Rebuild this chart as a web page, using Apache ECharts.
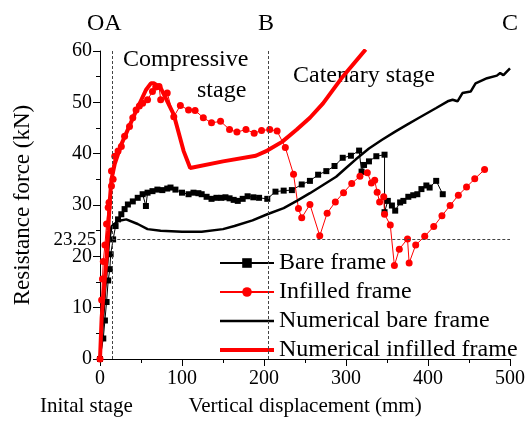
<!DOCTYPE html>
<html>
<head>
<meta charset="utf-8">
<script src="https://cdn.jsdelivr.net/npm/echarts@6/dist/echarts.min.js"></script>
<style>
  html, body { margin: 0; padding: 0; background: #fff; }
  #chart { width: 528px; height: 422px; }
</style>
</head>
<body>
<div id="chart"></div>
<script>
// displacement (mm), resistance (kN) pairs
const bareFrame = [
  [0, 0], [4, 4], [6, 7.5], [8, 11.1], [10, 15.3], [12, 17.5], [13, 20.4], [16, 23.3],
  [19, 25.9], [22, 27.2], [26, 28.2], [30, 29.2], [34, 30.1], [40, 30.7], [46, 31.4],
  [52, 32.1], [56, 29.8], [58, 32.4], [64, 32.7], [70, 33], [76, 32.9], [82, 33.2],
  [86, 33.4], [92, 33], [100, 32.4], [108, 32.1], [114, 32.4], [120, 32.3], [124, 32.1],
  [130, 31.6], [136, 31.2], [142, 31.4], [148, 31.4], [153, 31.5], [158, 31.3], [163, 31],
  [168, 30.8], [174, 31.2], [180, 31.7], [187, 31.5], [194, 31.4], [204, 31.2], [214, 32.6],
  [224, 32.8], [234, 32.9], [246, 34], [256, 34.7], [266, 35.9], [276, 36.6], [286, 37.6],
  [296, 39.2], [306, 39.6], [316, 40.6], [319, 36.5], [322, 37.8], [328, 38.5], [337, 39.5],
  [347, 39.8], [347, 28.6], [351, 30.8], [356, 29.9], [360, 28.9], [366, 30.5], [370, 30.8],
  [376, 31.6], [382, 31.9], [387, 32.1], [392, 33.1], [398, 33.8], [402, 33.4], [410, 34.7],
  [418, 32.1]
];

const infilledFrame = [
  [0, 0], [2, 11.5], [3, 15.6], [4, 19], [6, 22.2], [8, 26.3], [10, 29.5], [11, 30.5],
  [14, 33.7], [16, 35], [14, 36.6], [18, 39.5], [22, 40.5], [26, 41.4], [30, 43.4],
  [36, 45.3], [40, 47], [44, 48.5], [48, 49.3], [52, 49.8], [58, 50.5], [64, 52.1],
  [68, 53], [72, 53.1], [74, 50.5], [82, 51.8], [90, 47.2], [98, 49.4], [108, 48.5],
  [116, 48.4], [126, 47], [136, 46], [147, 46.3], [158, 44.7], [167, 44.2], [178, 44.7],
  [188, 44], [197, 44.5], [207, 44.7], [216, 44.4], [226, 41.2], [236, 36], [242, 29.3],
  [246, 27.5], [256, 30.1], [268, 24], [277, 28.4], [287, 30.6], [297, 32.4], [307, 34.2],
  [317, 35.6], [326, 36.3], [331, 34.3], [335, 34.8], [338, 32.5], [341, 30.6], [346, 31.6],
  [347, 28.2], [354, 26.1], [359, 18.2], [365, 21.4], [375, 23.4], [377, 18.7], [385, 22.2],
  [396, 23.9], [407, 25.8], [417, 27.9], [427, 29.9], [437, 31.9], [447, 33.5], [457, 35.1],
  [469, 36.9]
];

const numericalBare = [
  [0, 0], [3, 6], [6, 13], [9, 19], [11, 23], [14, 25.8], [22, 26.9], [32, 27.2],
  [46, 26.3], [58, 25.3], [74, 25], [100, 24.8], [124, 24.8], [150, 25.3], [164, 25.9],
  [186, 27], [204, 28.2], [224, 29.4], [240, 30.8], [256, 32.3], [272, 33.9], [288, 35.5],
  [300, 37.2], [312, 38.9], [328, 41], [344, 42.7], [360, 44.3], [374, 45.6], [388, 46.9],
  [410, 48.9], [424, 50.2], [430, 50.5], [436, 50.2], [442, 51.8], [452, 52.1], [458, 53.7],
  [472, 54.7], [484, 55.2], [488, 55.7], [492, 55.3], [500, 56.6]
];

const numericalInfilled = [
  [0, 0], [2, 8], [5, 14], [8, 19.5], [10, 25], [12, 31], [14, 35], [18, 38],
  [26, 41.8], [42, 47.6], [56, 52.4], [62, 53.7], [66, 53.7], [74, 52.8], [90, 47.6],
  [102, 40.5], [110, 37.2], [150, 38.5], [190, 39.6], [204, 40.6], [222, 42.3],
  [240, 44.7], [256, 47], [272, 49.8], [296, 55], [324, 60.3]
];

const stageBounds = [15, 205];
const yieldLoad = 23.25;
const xTicks = [0, 500, 100];
const yTicks = [0, 60, 10];

const font = "'Liberation Serif', 'Times New Roman', serif";
const chart = echarts.init(document.getElementById('chart'));

const axisCommon = {
  axisLine: { lineStyle: { color: '#000', width: 1 } },
  axisTick: { length: 7, lineStyle: { color: '#000' } },
  minorTick: { show: true, splitNumber: 2, length: 4, lineStyle: { color: '#000' } },
  splitLine: { show: false },
  axisLabel: { color: '#000', fontSize: 20, fontFamily: font },
  nameTextStyle: { color: '#000', fontFamily: font },
};

const guideStyle = { color: '#444', width: 1, type: [3, 2] };

chart.setOption({
  backgroundColor: '#fff',
  animation: false,
  grid: { left: 100, right: 11, top: 51, bottom: 62 },
  xAxis: {
    type: 'value',
    min: xTicks[0],
    max: xTicks[1],
    interval: xTicks[2],
    name: 'Vertical displacement (mm)',
    nameLocation: 'middle',
    nameGap: 37,
    ...axisCommon,
    axisLabel: { ...axisCommon.axisLabel, margin: 10 },
    nameTextStyle: { ...axisCommon.nameTextStyle, fontSize: 21 },
  },
  yAxis: {
    type: 'value',
    min: yTicks[0],
    max: yTicks[1],
    interval: yTicks[2],
    name: 'Resistance force (kN)',
    nameLocation: 'middle',
    nameGap: 66,
    ...axisCommon,
    axisLabel: { ...axisCommon.axisLabel, margin: 8 },
    nameTextStyle: { ...axisCommon.nameTextStyle, fontSize: 23 },
  },
  legend: {
    orient: 'vertical',
    left: 213,
    top: 246,
    itemWidth: 54,
    itemHeight: 12,
    itemGap: 5,
    textStyle: { fontSize: 24, fontFamily: font, color: '#000' },
    data: [
      { name: 'Bare frame' },
      { name: 'Infilled frame' },
      { name: 'Numerical bare frame', itemStyle: { opacity: 0 }, lineStyle: { width: 2.5 } },
      { name: 'Numerical infilled frame', itemStyle: { opacity: 0 }, lineStyle: { width: 4 } },
    ],
  },
  graphic: [
    { type: 'text', left: 87, top: 12, style: { text: 'OA', font: '24px ' + font, fill: '#000' } },
    { type: 'text', left: 258, top: 12, style: { text: 'B', font: '24px ' + font, fill: '#000' } },
    { type: 'text', left: 502, top: 12, style: { text: 'C', font: '24px ' + font, fill: '#000' } },
    { type: 'text', left: 123, top: 48, style: { text: 'Compressive', font: '24px ' + font, fill: '#000' } },
    { type: 'text', left: 197, top: 79, style: { text: 'stage', font: '24px ' + font, fill: '#000' } },
    { type: 'text', left: 293, top: 64, style: { text: 'Catenary stage', font: '24px ' + font, fill: '#000' } },
    { type: 'text', left: 40, top: 396, style: { text: 'Inital stage', font: '21px ' + font, fill: '#000' } },
  ],
  series: [
    {
      name: 'Bare frame',
      type: 'line',
      data: bareFrame,
      symbol: 'rect',
      symbolSize: 6,
      lineStyle: { color: '#000', width: 1 },
      itemStyle: { color: '#000' },
      z: 3,
    },
    {
      name: 'Infilled frame',
      type: 'line',
      data: infilledFrame,
      symbol: 'circle',
      symbolSize: 7,
      lineStyle: { color: '#ff0000', width: 1 },
      itemStyle: { color: '#ff0000' },
      z: 3,
    },
    {
      name: 'Numerical bare frame',
      type: 'line',
      data: numericalBare,
      symbol: 'none',
      lineStyle: { color: '#000', width: 2.5 },
      itemStyle: { color: '#000' },
      z: 4,
      markLine: {
        silent: true,
        symbol: 'none',
        lineStyle: guideStyle,
        label: { show: false },
        data: [
          [{ coord: [stageBounds[0], yTicks[0]] }, { coord: [stageBounds[0], yTicks[1]] }],
          [{ coord: [stageBounds[1], yTicks[0]] }, { coord: [stageBounds[1], yTicks[1]] }],
          [
            {
              coord: [stageBounds[0], yieldLoad],
              label: {
                show: true,
                position: 'start',
                distance: 16,
                formatter: String(yieldLoad),
                color: '#000',
                fontSize: 19,
                fontFamily: font,
              },
            },
            { coord: [xTicks[1], yieldLoad] },
          ],
        ],
      },
    },
    {
      name: 'Numerical infilled frame',
      type: 'line',
      data: numericalInfilled,
      symbol: 'none',
      lineStyle: { color: '#ff0000', width: 4 },
      itemStyle: { color: '#ff0000' },
      z: 5,
    },
  ],
});
</script>
</body>
</html>
